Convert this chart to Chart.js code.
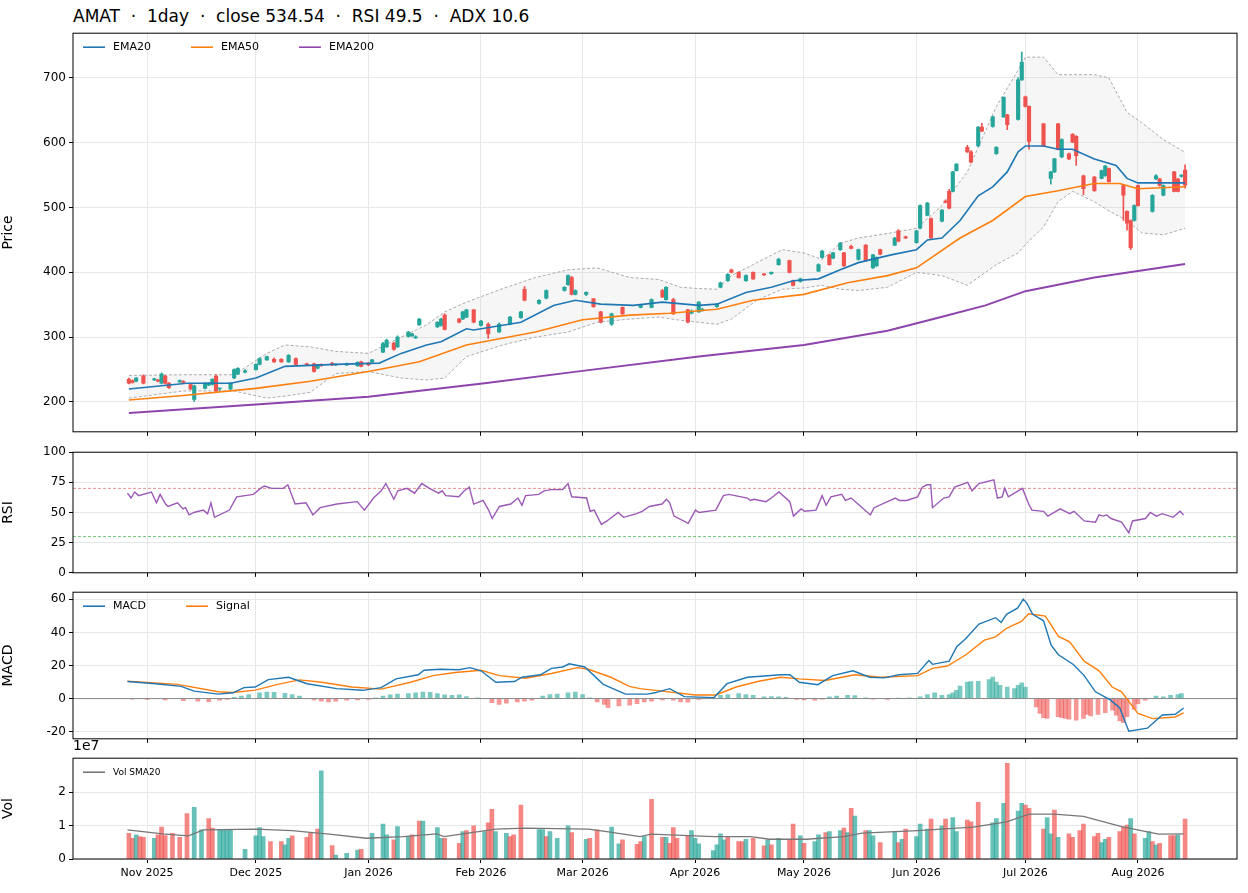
<!DOCTYPE html>
<html lang="en">
<head>
<meta charset="UTF-8">
<title>AMAT</title>
<script src="https://cdn.jsdelivr.net/npm/chart.js@4.4.1/dist/chart.umd.min.js"></script>
<style>
  body { margin: 0; background: #fff; font-family: "DejaVu Sans", sans-serif; }
  #wrap { position: relative; width: 1248px; height: 893px; }
  canvas { position: absolute; left: 0; }
  .txt { position: absolute; color: #000; }
</style>
</head>
<body>
<div id="wrap">
  <div class="txt" style="left:73px;top:6px;font-size:17px;">AMAT &nbsp;·&nbsp; 1day &nbsp;·&nbsp; close 534.54 &nbsp;·&nbsp; RSI 49.5 &nbsp;·&nbsp; ADX 10.6</div>
  <canvas id="price"></canvas>
  <canvas id="rsi"></canvas>
  <canvas id="macd"></canvas>
  <div class="txt" style="left:73px;top:737px;font-size:14px;">1e7</div>
  <canvas id="vol"></canvas>
</div>
<script>
// x = days since 1 Nov 2025
const monthDays = [0, 30, 61, 92, 120, 151, 181, 212, 242, 273];
const monthLabels = ["Nov 2025", "Dec 2025", "Jan 2026", "Feb 2026", "Mar 2026", "Apr 2026", "May 2026", "Jun 2026", "Jul 2026", "Aug 2026"];

// candles
const cDay = [-5,-4,-3,-1,2,3,4,5,6,9,10,12,13,16,17,18,19,20,23,24,25,27,30,31,33,35,37,39,41,44,46,47,48,51,52,55,58,59,61,62,65,66,68,69,72,73,74,75,80,81,82,86,87,88,90,92,94,97,100,103,104,108,110,115,116,117,118,121,123,125,128,131,136,139,142,143,145,149,150,152,153,157,158,160,161,163,165,167,170,172,174,177,178,180,185,186,188,189,191,192,194,196,198,200,201,202,206,207,209,212,213,215,216,219,220,221,222,223,226,227,229,230,233,234,236,237,240,241,242,243,247,249,250,251,252,254,255,256,258,261,263,264,265,269,270,271,272,273,277,278,279,280,283,284,285,286];
const cOpen = [235,233,232,240,234,234,229,240,229,231,232,227,204,221,226,227,240,220,220,237,243,246,250,258,265,266,266,262,267,259,259,252,258,260,257,257,256,262,260,262,277,285,291,285,301,302,299,319,316,318,334,328,328,331,342,318,320,308,320,330,374,352,360,372,381,392,366,366,359,339,320,346,346,346,372,358,358,342,337,339,341,347,377,387,404,400,387,400,397,398,412,418,387,386,402,423,427,422,435,430,440,420,442,407,410,435,442,464,455,446,468,488,483,479,510,525,525,557,593,586,595,624,625,583,640,643,636,697,671,656,629,545,555,629,578,583,613,610,549,547,545,549,560,534,494,480,480,534,494,544,544,519,555,544,548,558];
const cHigh = [237,234,238,242,237,235,245,241,230,234,233,228,226,230,230,236,242,222,230,251,253,250,259,268,271,268,267,273,268,260,260,258,259,261,259,260,262,263,261,266,292,297,292,302,309,306,302,329,324,329,336,329,340,343,343,326,322,322,332,340,378,358,373,378,396,394,373,370,360,340,337,347,350,359,374,378,360,343,342,355,345,352,385,398,405,401,396,401,398,401,422,419,388,391,413,434,428,431,446,431,442,436,443,428,424,436,454,466,456,465,504,508,484,497,512,528,556,568,596,588,625,630,641,594,671,644,700,740,672,657,630,556,576,630,606,584,614,611,550,548,558,565,561,535,495,481,504,535,520,551,545,535,556,545,551,566];
const cLow = [228,229,231,228,233,231,228,228,221,230,229,219,201,220,225,226,216,218,219,236,242,245,249,257,264,261,261,261,257,256,246,251,255,256,256,256,255,254,256,261,276,284,280,284,300,301,298,318,315,317,311,322,327,330,322,317,298,307,319,329,356,351,359,371,380,365,365,364,346,322,318,335,345,345,361,357,335,322,336,338,340,346,376,386,399,391,386,389,395,397,411,399,379,385,401,422,411,421,434,409,436,419,417,406,409,427,441,447,452,445,467,487,452,478,507,498,524,556,585,569,594,617,624,582,639,620,635,696,655,590,594,536,554,589,577,574,600,565,520,525,544,548,539,480,465,435,479,502,493,543,533,518,524,524,547,530];
const cClose = [229,230,237,229,235,232,243,229,222,233,230,220,225,229,229,235,217,221,229,250,252,248,258,267,270,262,262,272,258,257,247,257,256,257,258,259,261,255,257,265,290,295,281,300,308,305,300,328,323,328,312,323,339,342,323,325,305,320,331,339,357,357,372,377,395,366,372,369,347,323,336,336,349,358,362,377,336,323,340,354,343,351,384,397,400,392,395,390,396,400,420,400,380,390,412,433,412,430,445,410,437,435,418,427,423,428,453,448,453,464,503,507,453,496,508,499,555,567,586,570,624,618,640,593,670,628,697,724,656,602,595,555,575,590,605,575,601,580,529,526,557,564,540,519,476,438,503,503,519,549,534,534,525,525,550,534.54];

// overlays
const ema20Day = [-5,11,23,30,38,52,64,70,77,81,88,90,103,112,118,125,134,142,152,157,165,172,178,185,191,196,205,212,215,219,224,229,233,237,240,242,247,251,255,261,267,270,273,279,286];
const ema20Val = [220,229,229,237,255,258,260,275,288,293,313,311,323,349,357,351,349,354,349,351,369,377,387,390,404,415,427,435,450,453,480,518,532,555,586,595,595,590,590,575,565,545,538,538,538];
const ema50Day = [-5,10,30,45,61,75,88,107,120,133,144,157,167,181,193,204,212,224,233,242,251,261,268,273,286];
const ema50Val = [203,210,221,232,247,262,288,308,327,334,337,343,357,366,384,395,407,453,480,517,526,537,537,529,532];
const ema200Day = [-5,30,61,93,120,152,181,204,218,231,242,261,286];
const ema200Val = [183,196,208,229,248,270,288,310,330,349,371,392,413];
const bbDay = [-5,10,24,33,38,45,52,61,70,77,82,88,98,107,116,124,133,141,147,152,157,161,168,175,181,186,191,196,204,212,219,226,234,240,242,247,251,255,261,265,270,274,280,286];
const bbUpper = [241,242,242,275,288,285,278,275,300,319,339,354,375,392,404,407,392,389,377,375,374,395,415,435,430,420,445,453,460,468,503,555,656,712,732,732,705,705,705,700,647,631,605,585];
const bbLower = [206,217,217,206,209,215,244,247,237,234,237,270,288,300,308,323,328,331,326,323,320,328,357,374,376,380,374,372,377,400,395,380,412,430,443,470,509,525,509,495,480,461,458,468];

// RSI
const rsiDay = [-5.4,-4.4,-3.4,-2.3,1.2,2.6,3.6,5.1,5.8,8.4,9.9,10.6,11.6,12.9,15.5,16.7,17.6,18.6,22.7,24.7,29.3,31.3,32.3,34.4,37.5,38.8,40.8,43.8,45.7,47.7,52.3,57.9,59.9,62.4,64.5,65.8,68,69.1,71.6,73.7,75.7,77.8,80.3,81.3,82.3,85.9,87.4,88.8,90,92.6,94.1,95.1,97.1,100.2,102.2,103.3,104.3,107.9,109.4,111.4,114.5,116,117,121.1,122.1,123.2,125.2,126.7,129.8,131.3,134.9,136.4,138.4,141.9,143.1,144,145.2,149.1,151.1,152.1,156.7,158.8,160.3,165.4,166.2,167.2,170.5,172,174.1,177.1,178.1,180.2,181.2,184.3,186,187.1,188.4,191.4,192.4,194,199.3,200.3,206.2,207.2,209.3,212.3,213.6,214.9,215.9,216.4,219.5,221,222.5,226.1,227.3,229.2,233.3,234.3,235.6,236.3,237.3,241.2,242.9,243.8,247,248.2,251.6,254.2,255.4,258.2,261.3,262.3,263.4,264.4,265.6,268.5,270.5,271.5,275.1,276.4,278.1,279.7,282.7,284.6,285.6];
const rsiVal = [66,62,67,64,67,58,65,57,55,58,53,54,48,50,52,49,58,46,52,63,65,70,72,70,70,73,57,58,48,54,57,59,52,62,68,74,61,68,70,66,74,70,66,68,64,63,68,71,57,60,52,45,55,57,62,56,64,65,68,69,69,74,63,62,51,52,40,43,50,46,49,51,55,57,61,58,47,41,52,50,52,64,65,62,60,61,59,62,67,59,47,53,51,52,64,56,63,65,60,62,48,54,62,60,60,63,71,73,73,54,62,63,71,75,68,74,77,62,63,70,63,70,57,52,51,47,53,49,51,43,42,48,47,48,45,42,33,43,45,50,47,49,46,51,48];

// MACD
const macdDay = [-5.4,2.3,9.4,13,19.6,23.7,26.7,29.8,33.4,39,44.1,52.3,59.4,64.5,68.6,74.7,76.3,80.8,85.9,89,92,96.1,101.2,103.3,108.4,111.4,114.5,116.3,120.6,125.7,131.8,137.9,139.9,144,148,156.2,159.8,165.4,174.6,177.1,179.7,184.8,188.9,194.5,199.1,203.1,207.2,212.3,215.4,216.4,221,223.1,225.6,229.2,233.8,235.3,236.8,239.9,241.4,242.4,244,247,249.1,251.1,255.2,258.2,261.3,265.4,268,270.5,275.6,279.7,283.3,285.6];
const macdVal = [10.3,9.0,7.4,4.5,2.7,3.5,6.6,7.0,11.5,12.9,9,6,5,6.6,11.9,14.4,17.1,17.7,17.4,18.7,16.8,9.9,10.3,12.9,14.4,18.3,19.1,21,19.1,8.6,2.7,2.7,3.5,6,1.2,0.6,9,12.9,14.4,14.4,9.9,8.4,13.9,16.8,12.9,12.5,14.4,15.2,23,20.7,22.6,31.4,36.3,45,48.9,46,50.9,54.8,60.1,57.7,50.9,47,32.3,26.5,20.6,13.9,4.1,-0.8,-5.7,-19.7,-17.9,-9.9,-9.5,-5.7];
const sigDay = [-5.4,8.4,19.6,23.7,29.8,36,42,48.2,56.4,64.5,72.6,78.8,84.9,92,97.1,104.3,111.4,118.6,121.6,127.8,132.9,135.8,141.9,151.1,156.7,162.3,168.5,174.6,179.7,186.8,195,202.1,212.3,216.4,220.5,225.6,230.7,233.8,236.8,240.9,242.9,247.5,251.1,254.2,258.2,262.3,265.9,268.5,273,277.1,283.3,285.6];
const sigVal = [10.5,8.6,4.1,3.7,5.1,8.6,11.3,9.9,7,5.7,9.9,13.9,15.8,17.1,13.9,12.3,15.2,18.7,17.7,12.9,7.4,6,4.5,2.2,2.2,7,10.5,12.9,11.9,10.9,14.4,12.9,13.9,18.3,19.7,26.5,35.3,37.3,42.5,46.6,51.3,49.9,37.6,34.3,22.6,16.8,7,4.1,-9,-12.1,-11.1,-8.6];
const histDay = [-4,0,5,10,14,17,20,22,24,26,28,31,33,35,38,40,42,46,48,50,52,55,58,61,63,65,67,69,72,74,76,78,80,82,84,86,88,91,95,97,99,102,104,106,109,111,113,116,118,120,122,124,126,127,130,133,135,137,139,142,145,147,149,152,156,158,160,163,165,167,170,172,174,176,179,181,184,186,188,190,193,195,198,200,204,207,210,213,215,217,219,221,222,223,224,226,227,229,232,233,234,235,237,239,240,241,242,245,246,247,248,251,252,253,254,256,258,259,260,262,264,266,267,268,269,270,272,273,275,278,280,282,284,285];
const histVal = [-0.3,-0.5,-0.8,-1.2,-1.5,-1.8,-1,-0.5,0.8,1.5,2.5,3.5,4,3.8,3.2,2.5,1.5,-0.8,-1.5,-2,-1.5,-1,-0.8,-0.5,0.5,1.5,2.2,2.8,3,3.5,4,3.8,3,2.2,2,2.2,1.2,0.5,-2.5,-3.5,-2.8,-2,-1.5,-1,1.5,2.5,2.8,3.5,4,2.5,0.5,-2,-3.5,-5.5,-4.5,-4,-3,-2,-1.5,-0.8,-1,-2,-2.2,-0.5,0.5,2,2.5,3,2.5,2,1,1.2,1,0.8,-0.5,-0.8,-1,-0.3,1,1.5,2,1.8,0.5,-0.3,-0.5,0.3,0.5,1,2.5,3.5,2,2.5,3.5,5,7.5,10,10.3,10.5,11.5,13,10,8,7,6,8,9.5,7,-5,-9,-11.5,-12,-11,-11.5,-12,-12.5,-13,-12,-9.5,-10.5,-9.5,-8.5,-7,-10,-13.5,-14.5,-11,-6.5,-3,-1,1.5,1,2,2.5,3];

// volume (x 1e7)
const volDay = [-5,-4,-3,-2,-1,2,3,4,5,7,9,11,13,15,17,18,20,21,22,23,27,30,31,32,34,37,38,39,40,44,45,47,48,51,52,55,58,59,62,65,66,68,69,72,73,75,76,80,81,82,86,87,88,90,93,94,95,96,99,100,101,103,108,109,110,111,113,116,117,121,122,124,128,130,131,135,136,137,139,142,143,144,145,146,149,150,151,152,156,157,158,159,160,163,164,165,167,170,171,172,174,177,178,180,181,184,185,187,188,191,192,193,194,195,198,199,200,202,206,207,208,209,212,213,215,216,219,220,222,223,226,227,229,233,234,236,237,240,241,242,243,247,248,249,250,251,254,255,257,258,261,262,263,264,265,268,269,270,271,272,275,276,277,278,279,282,283,284,286];
const volVal = [.77,.62,.72,.67,.65,.62,.72,.95,.70,.77,.65,1.36,1.54,.87,1.21,.92,.88,.88,.88,.88,.29,.69,.94,.67,.52,.52,.42,.62,.69,.65,.77,.89,2.63,.40,.12,.17,.27,.29,.77,1.04,.72,.57,.97,.67,.72,1.13,1.13,.94,.62,.62,.47,.82,.85,.99,.82,1.08,1.48,.82,.77,.67,.72,1.61,.88,.88,.67,.82,.62,.99,.79,.59,.62,.87,.95,.45,.57,.44,.52,.67,1.78,.65,.65,.47,.94,.62,.69,.85,.62,.45,.25,.42,.75,.57,.65,.52,.52,.59,.62,.39,.57,.42,.62,.57,1.04,.69,.47,.52,.72,.79,.82,.85,.92,.79,1.51,1.28,.85,.85,.69,.49,.82,.49,.59,.89,.67,1.04,.89,1.19,.99,1.19,1.24,.82,1.16,1.11,1.69,1.08,1.21,1.66,2.86,1.43,1.66,1.61,1.51,.89,1.24,.75,1.46,.65,.75,.65,.85,1.04,.67,.77,.49,.59,.65,.82,.95,1.01,1.21,.75,.62,.82,.52,.42,.47,.70,.70,.72,1.19];
const volUp = [0,0,1,0,0,1,0,0,0,0,0,0,1,1,0,0,1,1,1,1,1,1,1,1,0,0,1,1,0,0,0,0,1,0,1,1,1,0,1,1,1,0,1,1,0,0,1,1,1,0,0,1,0,0,1,0,0,1,1,0,0,0,1,1,0,1,1,1,0,1,0,0,1,1,0,0,0,1,0,0,1,0,0,0,0,1,1,1,1,1,1,1,0,0,0,1,0,0,1,0,1,0,0,1,0,1,1,0,1,1,0,1,0,1,0,1,1,0,1,0,1,0,1,1,1,0,1,0,1,1,0,0,0,1,1,1,0,1,1,0,0,0,1,1,0,1,0,0,0,0,0,0,1,1,0,0,0,0,1,0,1,1,0,1,0,0,0,1,0];
const volSmaDay = [-5.4,4.3,11.4,15.5,29.8,40,47.1,50.2,60.4,70.6,79.8,81.8,96.1,104.3,121.6,126.7,135.8,138.9,156.2,166.4,171.5,181.7,192,197,212.3,223,227.6,236.8,243,250,258,268.5,278.7,285.6];
const volSmaVal = [.87,.75,.69,.87,.89,.85,.77,.74,.62,.67,.75,.67,.89,.92,.89,.82,.67,.74,.67,.67,.59,.59,.67,.77,.85,.92,.95,1.11,1.34,1.34,1.27,.97,.74,.75];

const GREEN = "#26a69a", RED = "#ef5350";
const FONT = "DejaVu Sans";
Chart.defaults.font.family = FONT;
Chart.defaults.color = "#000";
Chart.defaults.animation = false;

const xy = (xs, ys) => xs.map((x, i) => ({ x: x, y: ys[i] }));
const fixedTicks = (vals) => (s) => { s.ticks = vals.map(v => ({ value: v })); };

const framePlugin = {
  id: "frame",
  afterDraw(chart) {
    const a = chart.chartArea, c = chart.ctx;
    c.save(); c.strokeStyle = "#000"; c.lineWidth = 1;
    c.strokeRect(a.left, a.top, a.right - a.left, a.bottom - a.top);
    // in-plot legend, laid out horizontally
    const lg = chart.options.plugins.inLegend;
    if (lg) {
      let x = a.left + 10;
      const y = a.top + 14;
      c.font = lg.size + "px " + FONT;
      c.textBaseline = "middle";
      lg.items.forEach(([name, color]) => {
        c.strokeStyle = color; c.lineWidth = 1.6;
        c.beginPath(); c.moveTo(x, y); c.lineTo(x + 22, y); c.stroke();
        c.fillStyle = "#000"; c.fillText(name, x + 30, y);
        x += 30 + c.measureText(name).width + lg.gap;
      });
    }
    c.restore();
  }
};

function lineDs(label, xs, ys, color, extra) {
  return Object.assign({ type: "line", label: label, data: xy(xs, ys), borderColor: color,
    backgroundColor: color, borderWidth: 1.6, pointRadius: 0, tension: 0, order: 0 }, extra || {});
}

// one panel: plot area at (73, top) size 1164 x height
function panel(id, top, height, showX, yCfg, datasets, legend) {
  const padTop = 10, xH = showX ? 28 : 6;
  const cv = document.getElementById(id);
  cv.width = 1248; cv.height = height + padTop + xH;
  cv.style.top = (top - padTop) + "px";
  return new Chart(cv, {
    type: "bar",
    data: { datasets: datasets },
    options: {
      responsive: false,
      layout: { padding: { top: padTop, right: 11, left: 0, bottom: 0 } },
      plugins: { legend: { display: false }, tooltip: { enabled: false }, inLegend: legend },
      scales: {
        x: {
          type: "linear", min: -20.4, max: 300.3, offset: false,
          afterBuildTicks: fixedTicks(monthDays),
          afterFit: (s) => { s.height = xH; },
          grid: { color: "#e8e8e8", tickLength: 4, tickColor: "#000", offset: false },
          border: { display: false },
          ticks: { display: showX, font: { size: 11 }, maxRotation: 0, padding: 4,
                   callback: (v) => monthLabels[monthDays.indexOf(v)] || "" }
        },
        y: Object.assign({
          afterFit: (s) => { s.width = 73; },
          grid: { color: "#e8e8e8", tickLength: 4, tickColor: "#000" },
          border: { display: false },
          ticks: { font: { size: 12 } },
          title: { display: true, text: yCfg.title, font: { size: 14 }, padding: { top: 0, bottom: 4 } }
        }, yCfg.scale)
      }
    },
    plugins: [framePlugin]
  });
}

// price
const upC = cOpen.map((o, i) => cClose[i] >= o);
panel("price", 33, 403, false,
  { title: "Price", scale: { min: 154, max: 769, afterBuildTicks: fixedTicks([200, 300, 400, 500, 600, 700]) } },
  [
    lineDs("EMA20", ema20Day, ema20Val, "#1f77b4"),
    lineDs("EMA50", ema50Day, ema50Val, "#ff7f0e"),
    lineDs("EMA200", ema200Day, ema200Val, "#8e44ad", { borderWidth: 2 }),
    lineDs("BBU", bbDay, bbUpper, "#aaaaaa", { borderWidth: 1, borderDash: [3, 2], fill: "+1", backgroundColor: "rgba(200,200,200,0.16)", order: 5 }),
    lineDs("BBL", bbDay, bbLower, "#aaaaaa", { borderWidth: 1, borderDash: [3, 2], order: 5 }),
    { label: "wick", data: cDay.map((d, i) => ({ x: d, y: [cLow[i], cHigh[i]] })), grouped: false,
      barThickness: 1, backgroundColor: upC.map(u => u ? GREEN : RED), order: 2 },
    { label: "body", data: cDay.map((d, i) => ({ x: d, y: [cOpen[i], cClose[i]] })), grouped: false,
      barThickness: 3.5, minBarLength: 1, backgroundColor: upC.map(u => u ? GREEN : RED), order: 1 }
  ],
  { size: 11, gap: 40, items: [["EMA20", "#1f77b4"], ["EMA50", "#ff7f0e"], ["EMA200", "#8e44ad"]] });

// RSI
panel("rsi", 452, 125, false,
  { title: "RSI", scale: { min: 0, max: 100, afterBuildTicks: fixedTicks([0, 25, 50, 75, 100]) } },
  [
    lineDs("RSI", rsiDay, rsiVal, "#9b59b6", { borderWidth: 1.4 }),
    lineDs("ob", [-20.4, 300.3], [70, 70], "#e57373", { borderWidth: 0.8, borderDash: [3, 2] }),
    lineDs("os", [-20.4, 300.3], [30, 30], "#4caf50", { borderWidth: 0.8, borderDash: [3, 2] })
  ], null);

// MACD
panel("macd", 592, 151, false,
  { title: "MACD", scale: { min: -24.3, max: 64.3, afterBuildTicks: fixedTicks([-20, 0, 20, 40, 60]) } },
  [
    lineDs("MACD", macdDay, macdVal, "#1f77b4", { borderWidth: 1.4 }),
    lineDs("Signal", sigDay, sigVal, "#ff7f0e", { borderWidth: 1.4 }),
    lineDs("zero", [-20.4, 300.3], [0, 0], "#888888", { borderWidth: 1, order: 1 }),
    { label: "hist", data: xy(histDay, histVal), grouped: false, barThickness: 4,
      backgroundColor: histVal.map(v => v >= 0 ? "rgba(38,166,154,0.6)" : "rgba(239,83,80,0.6)"), order: 3 }
  ],
  { size: 11, gap: 40, items: [["MACD", "#1f77b4"], ["Signal", "#ff7f0e"]] });

// volume
panel("vol", 758, 101, true,
  { title: "Vol", scale: { min: 0, max: 3.01, afterBuildTicks: fixedTicks([0, 1, 2]) } },
  [
    lineDs("Vol SMA20", volSmaDay, volSmaVal, "#777777", { borderWidth: 1.3 }),
    { label: "vol", data: xy(volDay, volVal), grouped: false, barThickness: 4,
      backgroundColor: volUp.map(u => u ? "rgba(38,166,154,0.7)" : "rgba(239,83,80,0.7)"), order: 2 }
  ],
  { size: 9, gap: 30, items: [["Vol SMA20", "#777777"]] });
</script>
</body>
</html>
